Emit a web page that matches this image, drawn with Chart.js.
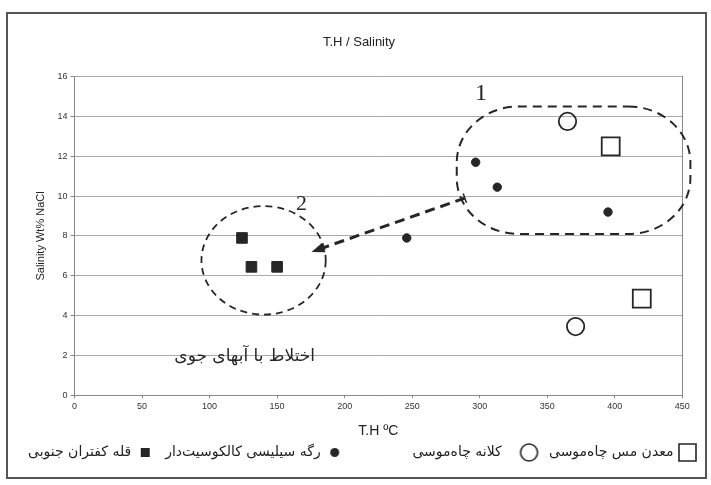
<!DOCTYPE html>
<html>
<head>
<meta charset="utf-8">
<script src="https://cdn.jsdelivr.net/npm/chart.js@4.4.0/dist/chart.umd.min.js"></script>
<style>
  html, body { margin: 0; padding: 0; background: #fff; }
  #wrap { width: 711px; height: 485px; position: relative; }
</style>
</head>
<body>
<div id="wrap"><canvas id="chart"></canvas></div>
<script>
// نام سری‌ها (به ترتیب راهنما از راست)
const seriesNames = ['معدن مس چاه‌موسی', 'کلانه چاه‌موسی', 'رگه سیلیسی کالکوسیت‌دار', 'قله کفتران جنوبی'];
// فاصله‌های راهنما: پیش و پس از متن (تعداد فاصله)
const legendLead = [0, 3, 0, 0];
const legendTrail = [2, 15, 2, 1];

// T.H (°C) و Salinity (Wt% NaCl)
const mesTH = [397, 420];
const mesSal = [12.5, 4.85];
const kolanehTH = [365, 371];
const kolanehSal = [13.75, 3.45];
const ragehTH = [297, 313, 395, 246];
const ragehSal = [11.7, 10.45, 9.2, 7.9];
const ghollehTH = [124, 131, 150];
const ghollehSal = [7.9, 6.45, 6.45];

const xTicks = [0, 50, 100, 150, 200, 250, 300, 350, 400, 450];
const yTicks = [0, 2, 4, 6, 8, 10, 12, 14, 16];

// یادداشت‌ها روی نمودار (در واحد داده)
const group1X = [283, 456];
const group1Y = [8.1, 14.5];
const group2X = [94, 186];
const group2Y = [4.05, 9.5];
const arrowFrom = [289, 9.9];
const arrowTo = [175.5, 7.2];
const groupLabels = [
  { text: '1', x: 301, y: 15.15, size: 24 },
  { text: '2', x: 168, y: 9.6, size: 22 }
];
const mixingNote = 'اختلاط با آبهای جوی';
const mixingNotePos = [126, 1.95];

const ink = '#262626';

function toPoints(xs, ys) {
  return xs.map((v, i) => ({ x: v, y: ys[i] }));
}

// علامت‌های راهنما با اندازه‌های متفاوت
function makeSymbol(kind, size, filled) {
  const c = document.createElement('canvas');
  c.width = size + 4;
  c.height = size + 4;
  const g = c.getContext('2d');
  const m = c.width / 2;
  g.strokeStyle = ink;
  g.fillStyle = ink;
  g.lineWidth = 1.6;
  g.beginPath();
  if (kind === 'rect') g.rect(m - size / 2, m - size / 2, size, size);
  else g.arc(m, m, size / 2, 0, Math.PI * 2);
  if (filled) g.fill(); else g.stroke();
  return c;
}
const legendSymbols = [
  makeSymbol('rect', 17, false),
  makeSymbol('circle', 17, false),
  makeSymbol('circle', 9, true),
  makeSymbol('rect', 9, true)
];

const framePlugin = {
  id: 'frame',
  beforeDraw(chart) {
    const ctx = chart.ctx;
    ctx.save();
    ctx.fillStyle = '#fff';
    ctx.fillRect(0, 0, chart.width, chart.height);
    ctx.strokeStyle = '#555';
    ctx.lineWidth = 2;
    ctx.strokeRect(7, 13, 699, 465);
    ctx.restore();
  }
};

const annotationPlugin = {
  id: 'annotations',
  afterDatasetsDraw(chart) {
    const { ctx, scales: { x, y } } = chart;
    ctx.save();
    ctx.strokeStyle = ink;
    ctx.fillStyle = ink;

    // گروه 1 (مستطیل با گوشه‌های بیضوی)
    const l = x.getPixelForValue(group1X[0]), r = x.getPixelForValue(group1X[1]);
    const t = y.getPixelForValue(group1Y[1]), b = y.getPixelForValue(group1Y[0]);
    const rx1 = 62, ry1 = 56;
    ctx.lineWidth = 2;
    ctx.setLineDash([9, 6]);
    ctx.beginPath();
    ctx.ellipse(r - rx1, t + ry1, rx1, ry1, 0, -Math.PI / 2, 0);
    ctx.ellipse(r - rx1, b - ry1, rx1, ry1, 0, 0, Math.PI / 2);
    ctx.ellipse(l + rx1, b - ry1, rx1, ry1, 0, Math.PI / 2, Math.PI);
    ctx.ellipse(l + rx1, t + ry1, rx1, ry1, 0, Math.PI, Math.PI * 1.5);
    ctx.closePath();
    ctx.stroke();

    // گروه 2
    const cx = x.getPixelForValue((group2X[0] + group2X[1]) / 2);
    const cy = y.getPixelForValue((group2Y[0] + group2Y[1]) / 2);
    const rx = (x.getPixelForValue(group2X[1]) - x.getPixelForValue(group2X[0])) / 2;
    const ry = (y.getPixelForValue(group2Y[0]) - y.getPixelForValue(group2Y[1])) / 2;
    ctx.lineWidth = 1.8;
    ctx.setLineDash([7, 5]);
    ctx.beginPath();
    ctx.ellipse(cx, cy, rx, ry, 0, 0, Math.PI * 2);
    ctx.stroke();

    // پیکان
    const x0 = x.getPixelForValue(arrowFrom[0]), y0 = y.getPixelForValue(arrowFrom[1]);
    const x1 = x.getPixelForValue(arrowTo[0]), y1 = y.getPixelForValue(arrowTo[1]);
    const ang = Math.atan2(y1 - y0, x1 - x0);
    const head = 13;
    ctx.lineWidth = 3;
    ctx.setLineDash([10, 6]);
    ctx.beginPath();
    ctx.moveTo(x0, y0);
    ctx.lineTo(x1 - Math.cos(ang) * head, y1 - Math.sin(ang) * head);
    ctx.stroke();
    ctx.setLineDash([]);
    ctx.beginPath();
    ctx.moveTo(x1, y1);
    ctx.lineTo(x1 - Math.cos(ang) * head + Math.sin(ang) * 5, y1 - Math.sin(ang) * head - Math.cos(ang) * 5);
    ctx.lineTo(x1 - Math.cos(ang) * head - Math.sin(ang) * 5, y1 - Math.sin(ang) * head + Math.cos(ang) * 5);
    ctx.closePath();
    ctx.fill();
    ctx.lineWidth = 1.5;
    ctx.beginPath();
    ctx.moveTo(x0 + Math.sin(ang) * 5, y0 - Math.cos(ang) * 5);
    ctx.lineTo(x0 - Math.sin(ang) * 5, y0 + Math.cos(ang) * 5);
    ctx.stroke();

    // متن‌ها
    ctx.textAlign = 'center';
    ctx.textBaseline = 'middle';
    groupLabels.forEach(g => {
      ctx.font = g.size + 'px "Liberation Serif", "DejaVu Serif", serif';
      ctx.fillText(g.text, x.getPixelForValue(g.x), y.getPixelForValue(g.y));
    });
    ctx.font = '17px "DejaVu Sans", sans-serif';
    ctx.direction = 'rtl';
    ctx.fillText(mixingNote, x.getPixelForValue(mixingNotePos[0]), y.getPixelForValue(mixingNotePos[1]));
    ctx.restore();
  }
};

const tickFont = { family: '"Liberation Sans Narrow", "Liberation Sans", Arial, sans-serif', size: 9 };

new Chart(document.getElementById('chart'), {
  type: 'scatter',
  data: {
    datasets: [
      {
        label: seriesNames[0],
        data: toPoints(mesTH, mesSal),
        pointStyle: 'rect',
        pointRadius: 12.7,
        borderWidth: 1.8,
        borderColor: ink,
        backgroundColor: 'rgba(255,255,255,0)'
      },
      {
        label: seriesNames[1],
        data: toPoints(kolanehTH, kolanehSal),
        pointStyle: 'circle',
        pointRadius: 8.7,
        borderWidth: 1.8,
        borderColor: ink,
        backgroundColor: 'rgba(255,255,255,0)'
      },
      {
        label: seriesNames[2],
        data: toPoints(ragehTH, ragehSal),
        pointStyle: 'circle',
        pointRadius: 4.2,
        borderWidth: 1,
        borderColor: ink,
        backgroundColor: ink
      },
      {
        label: seriesNames[3],
        data: toPoints(ghollehTH, ghollehSal),
        pointStyle: 'rect',
        pointRadius: 7.5,
        borderWidth: 1,
        borderColor: ink,
        backgroundColor: ink
      }
    ]
  },
  options: {
    responsive: true,
    maintainAspectRatio: false,
    animation: false,
    events: [],
    layout: { padding: { left: 7, right: 0, top: 0, bottom: 15.5 } },
    plugins: {
      title: {
        display: true,
        text: 'T.H / Salinity',
        fullSize: true,
        color: '#222',
        font: { family: '"Liberation Sans Narrow", "Liberation Sans", Arial, sans-serif', size: 13, weight: 'normal' },
        padding: { top: 35, bottom: 26 }
      },
      legend: {
        position: 'bottom',
        rtl: true,
        textDirection: 'rtl',
        labels: {
          usePointStyle: true,
          padding: 4,
          color: '#222',
          font: { family: '"DejaVu Sans", sans-serif', size: 14 },
          generateLabels(chart) {
            return chart.data.datasets.map((ds, i) => ({
              text: '\u00a0'.repeat(legendLead[i]) + seriesNames[i] + '\u00a0'.repeat(legendTrail[i]),
              pointStyle: legendSymbols[i],
              fillStyle: 'rgba(0,0,0,0)',
              strokeStyle: 'rgba(0,0,0,0)',
              lineWidth: 0,
              hidden: false,
              datasetIndex: i,
              fontColor: '#222'
            }));
          }
        }
      },
      tooltip: { enabled: false }
    },
    scales: {
      x: {
        type: 'linear',
        min: 0,
        max: 450,
        afterBuildTicks(axis) { axis.ticks = xTicks.map(v => ({ value: v })); },
        afterFit(axis) { axis.height = 46.2; },
        grid: { drawOnChartArea: false, drawTicks: true, tickLength: 3, color: '#888' },
        border: { color: '#888', width: 1 },
        ticks: { font: tickFont, color: '#333', padding: 3, maxRotation: 0 },
        title: {
          display: true,
          text: 'T.H ºC',
          color: '#222',
          font: { family: '"Liberation Sans Narrow", "Liberation Sans", Arial, sans-serif', size: 14 },
          padding: { top: 0, bottom: 2 }
        }
      },
      y: {
        type: 'linear',
        min: 0,
        max: 16,
        afterBuildTicks(axis) { axis.ticks = yTicks.map(v => ({ value: v })); },
        afterFit(axis) { axis.width = 67.5; },
        grid: { color: '#aaa', lineWidth: 1, tickLength: 4, tickColor: '#888' },
        border: { color: '#888', width: 1 },
        ticks: { font: tickFont, color: '#333', padding: 3 },
        title: {
          display: true,
          text: 'Salinity Wt% NaCl',
          color: '#222',
          font: { family: '"Liberation Sans Narrow", "Liberation Sans", Arial, sans-serif', size: 11 },
          padding: { top: 27, bottom: 0 }
        }
      },
      y2: {
        type: 'linear',
        position: 'right',
        min: 0,
        max: 16,
        afterFit(axis) { axis.width = 28.7; },
        grid: { drawOnChartArea: false, drawTicks: false },
        border: { color: '#888', width: 1 },
        ticks: { display: false }
      }
    }
  },
  plugins: [framePlugin, annotationPlugin]
});
</script>
</body>
</html>
